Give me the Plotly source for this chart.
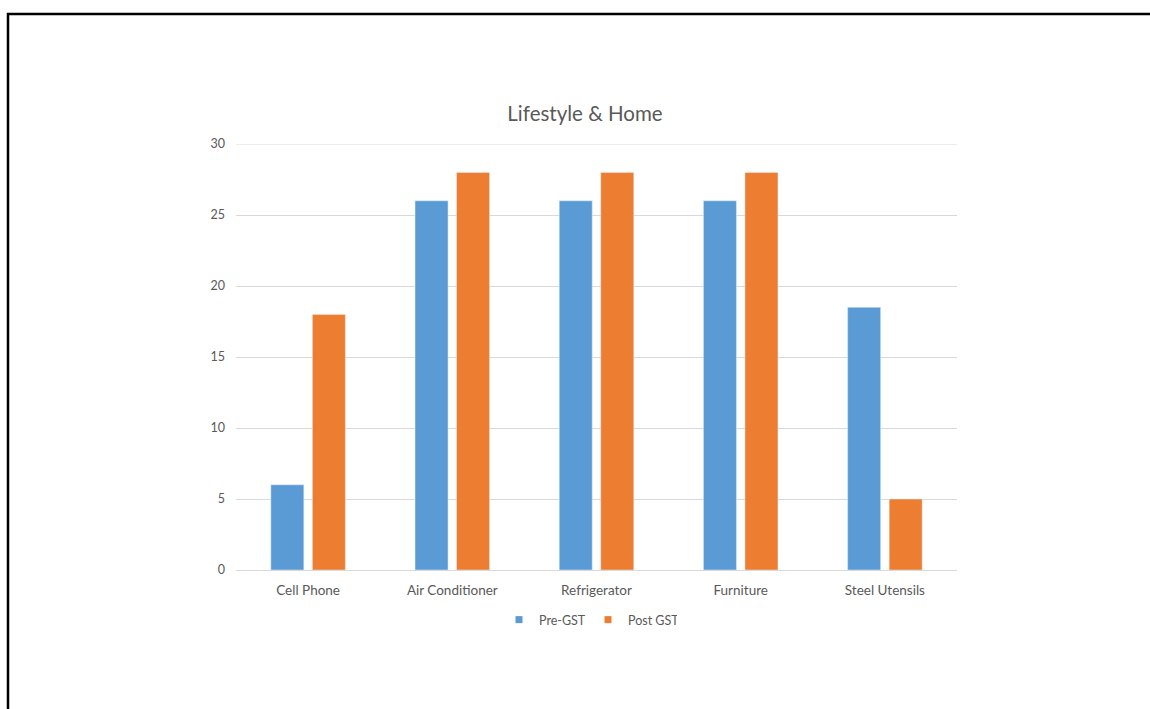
import plotly.graph_objects as go

categories = ["Cell Phone", "Air Conditioner", "Refrigerator", "Furniture", "Steel Utensils"]
pre_gst = [6, 26, 26, 26, 18.5]
post_gst = [18, 28, 28, 28, 5]

W, H = 1150, 709
L, R, T, B = 236, 957, 144, 570

def px_x(p):
    return (p - L) / (R - L)

def px_y(p):
    return (B - p) / (B - T)

font_family = "Lato, 'Open Sans', sans-serif"
text_color = "#595959"
grid_color = "#D9D9D9"
blue, orange = "#5B9BD5", "#ED7D31"

fig = go.Figure()
fig.add_trace(go.Bar(name="Pre-GST", x=categories, y=pre_gst, marker_color=blue, showlegend=False))
fig.add_trace(go.Bar(name="Post GST", x=categories, y=post_gst, marker_color=orange, showlegend=False))
# small square legend keys
fig.add_trace(go.Scatter(name="Pre-GST", x=[None], y=[None], mode="markers",
                         marker=dict(symbol="square", size=7, color=blue)))
fig.add_trace(go.Scatter(name="Post GST", x=[None], y=[None], mode="markers",
                         marker=dict(symbol="square", size=7, color=orange)))

fig.update_layout(
    width=W, height=H,
    margin=dict(l=L, r=W - R, t=T, b=H - B),
    paper_bgcolor="white", plot_bgcolor="white",
    barmode="group", bargap=0.424, bargroupgap=0.205,
    font=dict(family=font_family, color=text_color, size=13),
    title=dict(text="Lifestyle & Home", x=585 / W, xanchor="center",
               y=1 - 114 / H, yanchor="middle",
               font=dict(size=20.5, color=text_color, family=font_family)),
    legend=dict(orientation="h", x=px_x(588), xanchor="center", y=px_y(620), yanchor="middle",
                font=dict(size=12.5, color=text_color), itemwidth=30, traceorder="normal",
                entrywidth=44, entrywidthmode="pixels", tracegroupgap=0),
    showlegend=True,
)
fig.update_yaxes(range=[0, 30], tickvals=[0, 5, 10, 15, 20, 25, 30], showgrid=True,
                 gridcolor=grid_color, gridwidth=1, zeroline=False, showline=False, ticks="",
                 ticklabelstandoff=10, tickfont=dict(size=12.5, color=text_color))
fig.update_xaxes(showline=True, linecolor=grid_color, linewidth=1, ticks="outside",
                 ticklen=8, tickcolor="rgba(0,0,0,0)", tickfont=dict(size=13.5, color=text_color))

# gridline at the top of the value range
fig.add_hline(y=30, line=dict(color=grid_color, width=1), layer="below")

# outer frame around the chart
fig.add_shape(type="rect", xref="paper", yref="paper",
              x0=px_x(8), x1=px_x(1165), y0=px_y(725), y1=px_y(14),
              line=dict(color="black", width=2.5), fillcolor="rgba(0,0,0,0)", layer="above")

fig.write_html("out.html")
